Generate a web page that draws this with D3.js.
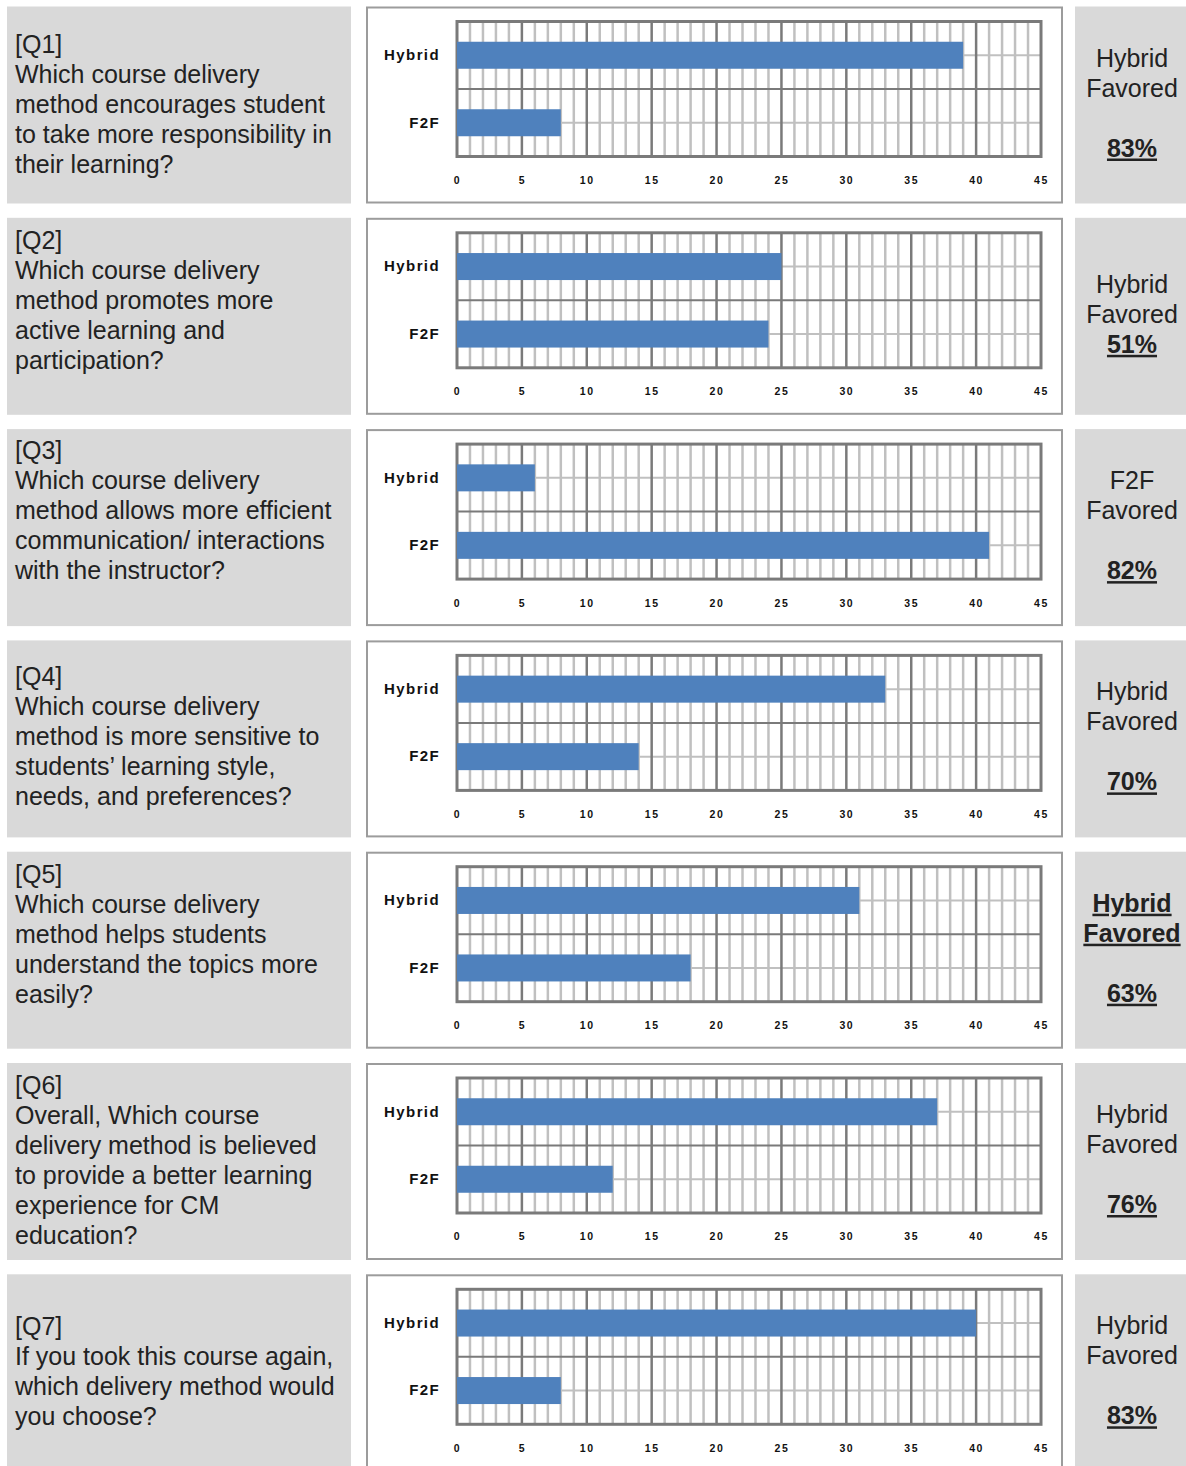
<!DOCTYPE html>
<html>
<head>
<meta charset="utf-8">
<script src="https://cdn.jsdelivr.net/npm/d3@7"></script>
<style>
  body { margin: 0; background: #fff; }
  svg { display: block; }
  .qtext { font-family: "Liberation Sans", Arial, sans-serif; font-size: 25px; fill: #222; }
  .cat text { font-family: "Liberation Sans", Arial, sans-serif; font-weight: bold; font-size: 15px; letter-spacing: 1.4px; fill: #111; }
  .xax text { font-family: "Liberation Sans", Arial, sans-serif; font-weight: bold; font-size: 10.5px; letter-spacing: 1.6px; fill: #111; }
</style>
</head>
<body>
<svg id="svg0"></svg>
<script>
// ---- data ----
var questionLabels = ["[Q1]", "[Q2]", "[Q3]", "[Q4]", "[Q5]", "[Q6]", "[Q7]"];
var questionTexts = [
  ["Which course delivery", "method encourages student", "to take more responsibility in", "their learning?"],
  ["Which course delivery", "method promotes more", "active learning and", "participation?"],
  ["Which course delivery", "method allows more efficient", "communication/ interactions", "with the instructor?"],
  ["Which course delivery", "method is more sensitive to", "students\u2019 learning style,", "needs, and preferences?"],
  ["Which course delivery", "method helps students", "understand the topics more", "easily?"],
  ["Overall, Which course", "delivery method is believed", "to provide a better learning", "experience for CM", "education?"],
  ["If you took this course again,", "which delivery method would", "you choose?"]
];
var categories = ["Hybrid", "F2F"];
var hybridCounts = [39, 25, 6, 33, 31, 37, 40];
var f2fCounts = [8, 24, 41, 14, 18, 12, 8];
var favoredMethod = ["Hybrid", "Hybrid", "F2F", "Hybrid", "Hybrid", "Hybrid", "Hybrid"];
var favoredPct = ["83%", "51%", "82%", "70%", "63%", "76%", "83%"];
var xTicks = [0, 5, 10, 15, 20, 25, 30, 35, 40, 45];

// ---- layout ----
var W = 1186, H = 1466;
var rowTop = 6.5, rowPitch = 211.3, rowH = 197;
var leftFirstBaseline = [46, 31, 30, 45, 31, 31, 61];   // first text line offsets in the left boxes
var rightFirstBaseline = [60, 75, 60, 60, 60, 60, 60];
var blankBeforePct = [true, false, true, true, true, true, true];
var underlineAll = [false, false, false, false, true, false, false];

var svg = d3.select("#svg0").attr("width", W).attr("height", H);

var cx0 = 366, cw = 697;          // chart box
var plotL = 91, plotR = 675, plotT = 15, plotB = 150;

var x = d3.scaleLinear().domain([0, 45]).range([plotL, plotR]);
var y = d3.scaleBand().domain(categories).range([plotT, plotB]).padding(0);

questionLabels.forEach(function(q, i) {
  var top = rowTop + i * rowPitch;
  var row = svg.append("g").attr("transform", "translate(0," + top + ")");

  // left question box
  row.append("rect").attr("x", 7).attr("y", 0).attr("width", 344).attr("height", rowH).attr("fill", "#d9d9d9");
  var lines = [q].concat(questionTexts[i]);
  var t = row.append("text").attr("class", "qtext").attr("x", 15).attr("y", leftFirstBaseline[i]);
  lines.forEach(function(l, k) {
    t.append("tspan").attr("x", 15).attr("dy", k == 0 ? 0 : 30).text(l);
  });

  // right verdict box
  row.append("rect").attr("x", 1075).attr("y", 0).attr("width", 120).attr("height", rowH).attr("fill", "#d9d9d9");
  var rt = row.append("text").attr("class", "qtext").attr("text-anchor", "middle")
              .attr("x", 1132).attr("y", rightFirstBaseline[i]);
  var vlines = [favoredMethod[i], "Favored"];
  vlines.forEach(function(l, k) {
    var sp = rt.append("tspan").attr("x", 1132).attr("dy", k == 0 ? 0 : 30).text(l);
    if (underlineAll[i]) sp.style("font-weight", "bold").style("text-decoration", "underline");
  });
  rt.append("tspan").attr("x", 1132).attr("dy", blankBeforePct[i] ? 60 : 30)
    .style("font-weight", "bold").style("text-decoration", "underline")
    .text(favoredPct[i]);

  // chart box
  var c = row.append("g").attr("transform", "translate(" + cx0 + ",0)");
  c.append("rect").attr("x", 1).attr("y", 1).attr("width", cw - 2).attr("height", rowH - 2)
   .attr("fill", "#fff").attr("stroke", "#9c9c9c").attr("stroke-width", 2);

  var d = [{cat: "Hybrid", v: hybridCounts[i]}, {cat: "F2F", v: f2fCounts[i]}];

  // minor vertical grid (every 1)
  c.append("g").selectAll("line").data(d3.range(1, 45).filter(function(v) { return v % 5 != 0; }))
   .enter().append("line")
   .attr("x1", function(v) { return x(v); }).attr("x2", function(v) { return x(v); })
   .attr("y1", plotT).attr("y2", plotB)
   .attr("stroke", "#c0c0c0").attr("stroke-width", 2.5);
  // minor horizontal grid at category centres
  c.append("g").selectAll("line").data(categories).enter().append("line")
   .attr("x1", plotL).attr("x2", plotR)
   .attr("y1", function(k) { return y(k) + y.bandwidth() / 2; })
   .attr("y2", function(k) { return y(k) + y.bandwidth() / 2; })
   .attr("stroke", "#c0c0c0").attr("stroke-width", 2);
  // major vertical grid (every 5)
  c.append("g").selectAll("line").data(xTicks.slice(1, -1)).enter().append("line")
   .attr("x1", function(v) { return x(v); }).attr("x2", function(v) { return x(v); })
   .attr("y1", plotT).attr("y2", plotB)
   .attr("stroke", "#7a7a7a").attr("stroke-width", 2.5);
  // major horizontal grid between categories
  c.append("line").attr("x1", plotL).attr("x2", plotR)
   .attr("y1", y("F2F")).attr("y2", y("F2F"))
   .attr("stroke", "#7a7a7a").attr("stroke-width", 2);
  // plot border
  c.append("rect").attr("x", plotL).attr("y", plotT).attr("width", plotR - plotL).attr("height", plotB - plotT)
   .attr("fill", "none").attr("stroke", "#7a7a7a").attr("stroke-width", 3);

  // bars
  c.selectAll("rect.bar").data(d).enter().append("rect").attr("class", "bar")
   .attr("x", x(0))
   .attr("y", function(e) { return y(e.cat) + y.bandwidth() * 0.3; })
   .attr("width", function(e) { return x(e.v) - x(0); })
   .attr("height", y.bandwidth() * 0.4)
   .attr("fill", "#4f81bd");

  // axes
  var xAxis = d3.axisBottom(x).tickValues(xTicks).tickSize(0).tickPadding(0);
  c.append("g").attr("class", "xax").attr("transform", "translate(0,170)").call(xAxis)
   .call(function(g) { g.select(".domain").remove(); });
  var yAxis = d3.axisLeft(y).tickSize(0).tickPadding(17);
  c.append("g").attr("class", "cat").attr("transform", "translate(" + plotL + ",0)").call(yAxis)
   .call(function(g) { g.select(".domain").remove(); });
});
</script>
</body>
</html>
